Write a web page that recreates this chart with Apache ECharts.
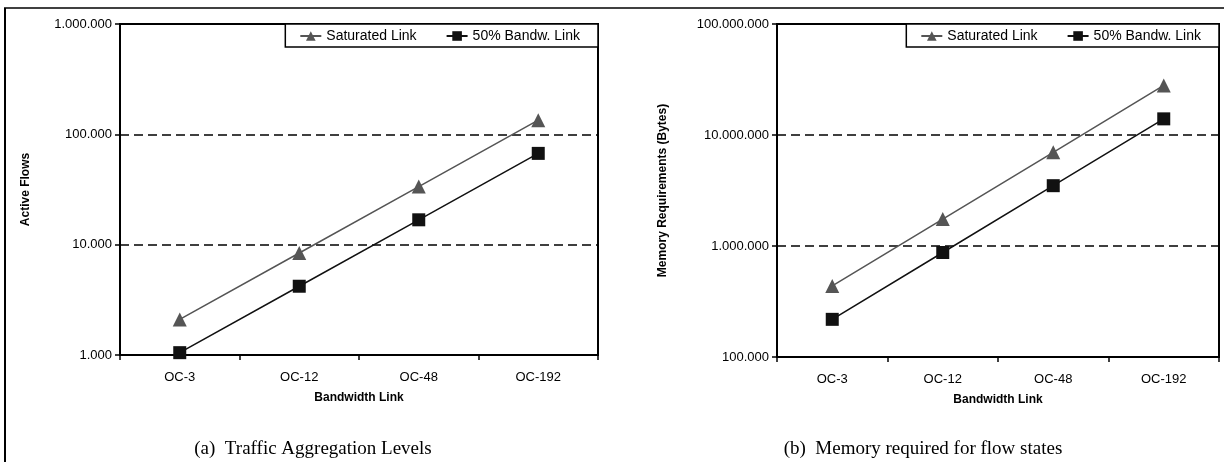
<!DOCTYPE html>
<html>
<head>
<meta charset="utf-8">
<script src="https://cdn.jsdelivr.net/npm/echarts@6/dist/echarts.min.js"></script>
<style>
html,body{margin:0;padding:0;background:#fff;}
#chart{width:1224px;height:462px;}
</style>
</head>
<body>
<div id="chart"></div>
<script>
// ---- data ----
const categories = ['OC-3', 'OC-12', 'OC-48', 'OC-192'];
const seriesNames = ['Saturated Link', '50% Bandw. Link'];
const flowsSaturated = [2100, 8400, 33600, 134400];
const flowsHalf = [1050, 4200, 16800, 67200];
const memSaturated = [436800, 1747200, 6988800, 27955200];
const memHalf = [218400, 873600, 3494400, 13977600];
const flowsTicks = [1000, 10000, 100000, 1000000];
const memTicks = [100000, 1000000, 10000000, 100000000];
const captions = ['(a)  Traffic Aggregation Levels', '(b)  Memory required for flow states'];
const yTitles = ['Active Flows', 'Memory Requirements (Bytes)'];
const xTitle = 'Bandwidth Link';

function fmt(v) {
  return String(Math.round(v)).replace(/\B(?=(\d{3})+(?!\d))/g, '.');
}

const SANS = 'Liberation Sans, Arial, sans-serif';
const SERIF = 'Liberation Serif, Times New Roman, serif';

const chart = echarts.init(document.getElementById('chart'), null, {renderer: 'canvas'});

const grids = [
  {left: 120, right: 626, top: 24, bottom: 107},
  {left: 777, right: 5, top: 24, bottom: 105}
];

function xAxis(i) {
  return {
    type: 'category', gridIndex: i, data: categories, boundaryGap: true,
    name: xTitle, nameLocation: 'middle', nameGap: 37,
    nameTextStyle: {fontFamily: SANS, fontWeight: 'bold', fontSize: 12, color: '#000'},
    axisLine: {lineStyle: {color: '#000', width: 2}},
    axisTick: {show: true, length: 5, lineStyle: {color: '#000', width: 1.5}},
    axisLabel: {fontFamily: SANS, fontSize: 13, color: '#000', margin: 16},
    splitLine: {show: false}
  };
}
function yAxis(i, ticks) {
  return {
    type: 'log', logBase: 10, gridIndex: i, min: ticks[0], max: ticks[ticks.length - 1],
    name: yTitles[i], nameLocation: 'middle', nameGap: i === 0 ? 88 : 108, nameRotate: 90,
    nameTextStyle: {fontFamily: SANS, fontWeight: 'bold', fontSize: 12, color: '#000'},
    axisLine: {show: true, lineStyle: {color: '#000', width: 2}},
    axisTick: {show: true, length: 5, lineStyle: {color: '#000', width: 1.5}},
    axisLabel: {fontFamily: SANS, fontSize: 13, color: '#000', margin: 8, formatter: v => fmt(v)},
    splitLine: {show: true, lineStyle: {color: '#000', type: [9, 5], width: 1.5}}
  };
}

function lineSeries(name, data, xi, yi) {
  const sat = name === seriesNames[0];
  return {
    name: name, type: 'line', xAxisIndex: xi, yAxisIndex: yi, data: data,
    symbol: sat ? 'triangle' : 'rect', symbolSize: sat ? 14 : 13,
    lineStyle: {color: sat ? '#555' : '#111', width: 1.5},
    itemStyle: {color: sat ? '#555' : '#111'},
    animation: false
  };
}

function legend(i) {
  return {
    data: seriesNames,
    top: 24,
    right: i === 0 ? 626 : 5,
    orient: 'horizontal',
    backgroundColor: '#fff',
    borderColor: '#000', borderWidth: 1.5, borderRadius: 0,
    padding: [5, 18, 4, 14],
    itemGap: 29, itemWidth: 21, itemHeight: 12,
    textStyle: {fontFamily: SANS, fontSize: 14, color: '#000'},
    selectedMode: false
  };
}

chart.setOption({
  backgroundColor: '#fff',
  animation: false,
  grid: grids.map(g => Object.assign({show: true, borderColor: '#000', borderWidth: 2, backgroundColor: 'transparent'}, g)),
  xAxis: [xAxis(0), xAxis(1)],
  yAxis: [yAxis(0, flowsTicks), yAxis(1, memTicks)],
  legend: [legend(0), legend(1)],
  title: [
    {text: captions[0], left: 308, top: 435, textAlign: 'center',
     textStyle: {fontFamily: SERIF, fontWeight: 'normal', fontSize: 19, color: '#000'}},
    {text: captions[1], left: 918, top: 435, textAlign: 'center',
     textStyle: {fontFamily: SERIF, fontWeight: 'normal', fontSize: 19, color: '#000'}}
  ],
  graphic: [
    {type: 'line', shape: {x1: 5, y1: 8, x2: 5, y2: 462}, style: {stroke: '#000', lineWidth: 2}},
    {type: 'line', shape: {x1: 4, y1: 8, x2: 1224, y2: 8}, style: {stroke: '#000', lineWidth: 1.5}}
  ],
  series: [
    lineSeries(seriesNames[0], flowsSaturated, 0, 0),
    lineSeries(seriesNames[1], flowsHalf, 0, 0),
    lineSeries(seriesNames[0], memSaturated, 1, 1),
    lineSeries(seriesNames[1], memHalf, 1, 1)
  ]
});
</script>
</body>
</html>
